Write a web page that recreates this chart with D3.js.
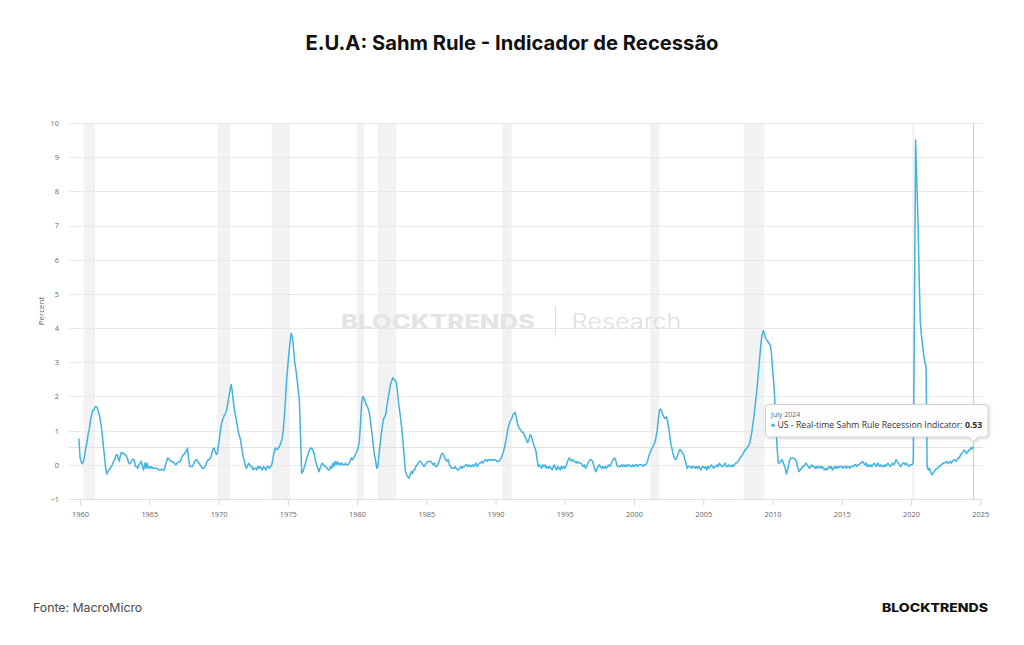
<!DOCTYPE html>
<html>
<head>
<meta charset="utf-8">
<script src="https://cdn.jsdelivr.net/npm/d3@7"></script>
<style>
  html, body { margin: 0; padding: 0; background: #ffffff; }
  svg { display: block; }
</style>
</head>
<body>
<svg id="chart" width="1024" height="645"></svg>
<script>
// ---------------- DATA ----------------
const chartTitle = "E.U.A: Sahm Rule - Indicador de Recessão";
const seriesName = "US - Real-time Sahm Rule Recession Indicator";
const yAxisTitle = "Percent";
const sourceText = "Fonte: MacroMicro";
const brandText = "BLOCKTRENDS";
const firstMonth = "1959-12";          // first monthly observation
const yTicks = [-1, 0, 1, 2, 3, 4, 5, 6, 7, 8, 9, 10];
const xTickYears = [1960, 1965, 1970, 1975, 1980, 1985, 1990, 1995, 2000, 2005, 2010, 2015, 2020, 2025];

// monthly values (percent), Dec 1959 .. Jul 2024
const sahmValues = [
  0.77,
  0.2, 0.1, 0.03, 0.1, 0.27, 0.5, 0.65, 0.9, 1.05, 1.3, 1.45, 1.6,            // 1960
  1.6, 1.7, 1.7, 1.65, 1.55, 1.4, 1.23, 0.95, 0.6, 0.3, -0.05, -0.27,        // 1961
  -0.2, -0.15, -0.1, -0.05, 0.0, 0.1, 0.15, 0.27, 0.3, 0.2, 0.1, 0.3,        // 1962
  0.37, 0.33, 0.33, 0.3, 0.27, 0.2, 0.07, 0.03, 0.07, 0.13, 0.17, 0.13,      // 1963
  -0.05, -0.05, -0.1, 0.0, 0.05, 0.1, -0.05, -0.15, 0.05, -0.1, 0.05, -0.1,  // 1964
  -0.05, -0.1, -0.05, -0.1, -0.1, -0.1, -0.1, -0.1, -0.15, -0.15, -0.15, -0.13, // 1965
  -0.15, -0.15, 0.0, 0.1, 0.2, 0.17, 0.13, 0.1, 0.1, 0.07, 0.03, 0.0,        // 1966
  0.05, 0.07, 0.1, 0.1, 0.2, 0.27, 0.3, 0.35, 0.4, 0.49, 0.2, -0.05,         // 1967
  -0.05, -0.05, 0.0, 0.07, 0.13, 0.15, 0.1, 0.05, 0.0, -0.05, -0.1, -0.1,    // 1968
  -0.05, 0.0, 0.1, 0.15, 0.15, 0.2, 0.3, 0.45, 0.49, 0.4, 0.3, 0.35,         // 1969
  0.6, 0.85, 1.1, 1.27, 1.35, 1.45, 1.5, 1.6, 1.8, 2.0, 2.2, 2.35,           // 1970
  2.1, 1.8, 1.55, 1.4, 1.2, 1.0, 0.85, 0.75, 0.5, 0.3, 0.15, 0.0,            // 1971
  -0.1, -0.05, 0.05, 0.0, -0.05, -0.05, -0.15, -0.1, -0.1, -0.15, -0.05, -0.1, // 1972
  -0.05, -0.1, -0.15, -0.05, -0.1, -0.15, -0.05, -0.05, -0.1, -0.05, 0.0, 0.15, // 1973
  0.35, 0.49, 0.45, 0.45, 0.5, 0.55, 0.65, 0.75, 1.0, 1.4, 1.9, 2.5,         // 1974
  2.9, 3.3, 3.6, 3.85, 3.75, 3.4, 3.0, 2.8, 2.5, 2.2, 1.9, 0.9,              // 1975
  -0.25, -0.2, -0.1, 0.0, 0.15, 0.25, 0.35, 0.45, 0.49, 0.47, 0.4, 0.3,      // 1976
  0.1, 0.0, -0.1, -0.2, -0.1, 0.0, 0.05, 0.0, -0.05, -0.05, -0.1, -0.15,     // 1977
  -0.15, -0.05, -0.1, 0.05, -0.05, 0.1, 0.0, 0.1, 0.0, 0.05, 0.0, 0.05,      // 1978
  0.0, 0.0, 0.05, 0.0, 0.0, 0.05, 0.1, 0.2, 0.15, 0.2, 0.25, 0.34,           // 1979
  0.4, 0.5, 0.7, 1.2, 1.8, 2.0, 1.95, 1.85, 1.75, 1.7, 1.6, 1.45,            // 1980
  1.15, 0.9, 0.6, 0.3, 0.15, -0.1, -0.05, 0.3, 0.6, 0.9, 1.15, 1.35,         // 1981
  1.4, 1.5, 1.75, 1.95, 2.15, 2.35, 2.45, 2.55, 2.5, 2.47, 2.4, 2.15,        // 1982
  1.8, 1.55, 1.3, 1.0, 0.6, 0.2, -0.2, -0.3, -0.35, -0.39, -0.3, -0.2,       // 1983
  -0.25, -0.15, -0.15, -0.05, 0.0, 0.05, 0.1, 0.1, 0.05, 0.0, -0.05, 0.0,    // 1984
  0.05, 0.1, 0.1, 0.1, 0.1, 0.05, 0.0, 0.05, -0.05, -0.05, 0.0, 0.1,         // 1985
  0.2, 0.3, 0.34, 0.3, 0.2, 0.15, 0.1, 0.15, 0.0, -0.05, -0.1, -0.1,         // 1986
  -0.1, -0.05, -0.1, -0.15, -0.15, -0.1, -0.05, -0.1, -0.05, -0.05, 0.0, 0.0, // 1987
  -0.05, 0.0, -0.05, -0.05, 0.0, -0.05, 0.0, 0.05, -0.05, 0.0, 0.05, 0.05,   // 1988
  0.1, 0.05, 0.1, 0.15, 0.15, 0.1, 0.15, 0.15, 0.13, 0.15, 0.13, 0.15,       // 1989
  0.15, 0.1, 0.1, 0.1, 0.15, 0.2, 0.3, 0.4, 0.55, 0.7, 0.9, 1.1,             // 1990
  1.2, 1.3, 1.35, 1.45, 1.5, 1.53, 1.4, 1.2, 1.1, 1.05, 1.0, 0.95,           // 1991
  0.95, 0.85, 0.8, 0.7, 0.65, 0.75, 0.88, 0.85, 0.7, 0.6, 0.5, 0.4,          // 1992
  0.15, -0.05, 0.0, -0.05, -0.1, 0.0, -0.05, 0.0, -0.1, -0.05, -0.1, -0.05,  // 1993
  -0.1, -0.15, -0.05, 0.0, -0.1, -0.15, -0.05, -0.1, -0.15, -0.05, -0.1, -0.05, // 1994
  -0.1, -0.05, 0.05, 0.15, 0.2, 0.15, 0.1, 0.15, 0.1, 0.1, 0.05, 0.1,        // 1995
  0.05, 0.05, 0.05, 0.0, -0.05, 0.0, -0.1, -0.05, 0.05, 0.1, 0.15, 0.15,     // 1996
  0.1, 0.0, -0.15, -0.2, -0.1, -0.05, 0.0, -0.05, -0.1, -0.05, -0.1, -0.05,  // 1997
  -0.1, -0.05, 0.0, -0.05, 0.0, 0.1, 0.15, 0.2, 0.15, 0.0, -0.05, -0.05,     // 1998
  -0.05, 0.0, -0.05, 0.0, -0.05, 0.0, -0.05, 0.0, 0.0, -0.05, -0.05, 0.0,    // 1999
  -0.05, 0.0, 0.0, -0.05, 0.0, 0.0, 0.0, 0.0, -0.05, 0.0, 0.0, 0.05,         // 2000
  0.15, 0.3, 0.35, 0.45, 0.5, 0.58, 0.65, 0.8, 1.0, 1.3, 1.6, 1.63,          // 2001
  1.55, 1.45, 1.4, 1.35, 1.4, 1.3, 1.1, 0.85, 0.6, 0.45, 0.3, 0.2,           // 2002
  0.15, 0.2, 0.3, 0.4, 0.45, 0.4, 0.35, 0.3, 0.15, 0.05, -0.1, -0.05,        // 2003
  -0.05, -0.05, -0.1, -0.05, -0.05, -0.1, -0.05, -0.1, -0.05, -0.1, -0.15, -0.05, // 2004
  -0.05, -0.1, -0.05, -0.15, -0.05, -0.1, -0.05, 0.0, -0.05, -0.1, -0.05, -0.05, // 2005
  0.0, -0.05, 0.05, 0.0, -0.05, -0.05, 0.0, 0.05, -0.05, -0.05, 0.0, -0.05,  // 2006
  -0.05, 0.0, -0.05, 0.0, 0.05, 0.05, 0.1, 0.15, 0.2, 0.25, 0.3, 0.35,       // 2007
  0.44, 0.45, 0.5, 0.55, 0.6, 0.75, 0.95, 1.2, 1.45, 1.75, 2.05, 2.4,        // 2008
  2.8, 3.2, 3.55, 3.8, 3.92, 3.85, 3.7, 3.65, 3.6, 3.55, 3.5, 3.3,           // 2009
  2.8, 2.4, 1.9, 1.2, 0.5, 0.05, 0.05, 0.1, 0.15, 0.1, 0.0, -0.1,            // 2010
  -0.27, -0.15, 0.0, 0.15, 0.2, 0.2, 0.2, 0.17, 0.15, 0.05, -0.1, -0.2,      // 2011
  -0.15, -0.1, -0.05, -0.05, 0.0, 0.05, 0.0, -0.05, -0.1, -0.05, 0.0, -0.05, // 2012
  -0.05, -0.1, -0.05, -0.1, -0.05, -0.05, -0.1, -0.05, -0.1, -0.15, -0.1, -0.15, // 2013
  -0.1, -0.05, -0.1, -0.05, -0.15, -0.1, -0.05, -0.1, -0.05, -0.1, -0.05, -0.05, // 2014
  -0.05, -0.1, -0.05, -0.05, -0.1, -0.05, -0.05, -0.1, -0.05, -0.05, -0.05, 0.0, // 2015
  0.0, -0.05, 0.0, 0.0, 0.05, 0.05, 0.1, 0.05, 0.0, 0.05, -0.05, 0.0,        // 2016
  -0.05, 0.0, -0.05, 0.0, 0.05, 0.0, -0.05, 0.05, 0.0, -0.05, 0.0, -0.05,    // 2017
  -0.05, 0.0, -0.05, 0.0, 0.05, 0.0, -0.05, 0.0, 0.05, 0.0, 0.05, 0.15,      // 2018
  0.1, 0.05, 0.0, -0.05, 0.0, 0.05, 0.05, 0.0, 0.05, 0.0, -0.05, 0.0,        // 2019
  0.0, 0.0, 0.1, 4.5, 9.5, 8.3, 7.2, 5.6, 4.2, 3.8, 3.5, 3.2,                // 2020
  3.0, 2.87, -0.05, -0.15, -0.1, -0.2, -0.29, -0.25, -0.2, -0.15, -0.12, -0.1, // 2021
  -0.05, -0.05, 0.0, 0.02, 0.05, 0.07, 0.05, 0.1, 0.05, 0.05, 0.1, 0.05,     // 2022
  0.1, 0.15, 0.15, 0.1, 0.15, 0.2, 0.2, 0.3, 0.33, 0.37, 0.43, 0.4,          // 2023
  0.33, 0.37, 0.43, 0.43, 0.5, 0.47, 0.53                                    // 2024
];

// NBER recessions (shaded bands)
const recessionStarts = ["1960-04", "1969-12", "1973-11", "1980-01", "1981-07", "1990-07", "2001-03", "2007-12", "2020-02"];
const recessionEnds   = ["1961-02", "1970-11", "1975-03", "1980-07", "1982-11", "1991-03", "2001-11", "2009-06", "2020-04"];

// ---------------- CHART ----------------
const svg = d3.select("#chart");
const W = 1024, H = 645;
const plot = { left: 69, right: 982, top: 123, bottom: 499 };
const lineColor = "#41b3e1";
const parseMonth = d3.timeParse("%Y-%m");

const start = parseMonth(firstMonth);
const data = sahmValues.map((v, i) => ({ date: d3.timeMonth.offset(start, i), value: v }));

const x = d3.scaleTime()
  .domain([new Date(1959, 2, 15), new Date(2025, 1, 15)])
  .range([plot.left, plot.right]);
const y = d3.scaleLinear().domain([-1, 10]).range([plot.bottom, plot.top]);

svg.append("rect").attr("width", W).attr("height", H).attr("fill", "#ffffff");

// title
svg.append("text")
  .attr("x", 512).attr("y", 49.5)
  .attr("text-anchor", "middle")
  .attr("font-family", "Inter, 'Noto Sans', sans-serif")
  .attr("font-weight", 700)
  .attr("font-size", 20.2)
  .attr("fill", "#111111")
  .text(chartTitle);

// recession bands
const bands = recessionStarts.map((s, i) => ({ s: parseMonth(s), e: parseMonth(recessionEnds[i]) }));
svg.append("g").selectAll("rect").data(bands).join("rect")
  .attr("x", d => x(d.s))
  .attr("width", d => x(d.e) - x(d.s))
  .attr("y", plot.top)
  .attr("height", plot.bottom - plot.top)
  .attr("fill", "#f2f2f2");

// horizontal gridlines
svg.append("g").selectAll("line").data(yTicks.filter(t => t !== -1)).join("line")
  .attr("x1", plot.left).attr("x2", plot.right)
  .attr("y1", d => Math.round(y(d)) + 0.5).attr("y2", d => Math.round(y(d)) + 0.5)
  .attr("stroke", "#e9e9e9").attr("stroke-width", 1);

// y axis labels
const yAxis = d3.axisLeft(y).tickValues(yTicks).tickSize(0).tickPadding(0).tickFormat(d3.format("d"));
const gy = svg.append("g").attr("transform", "translate(59,0)").call(yAxis);
gy.select(".domain").remove();
gy.selectAll("text")
  .attr("font-family", "'Open Sans', 'Noto Sans', sans-serif")
  .attr("font-size", 7.4)
  .attr("fill", "#666666");

// y axis title
svg.append("text")
  .attr("transform", "translate(43.5,311) rotate(-90)")
  .attr("text-anchor", "middle")
  .attr("font-family", "'Open Sans', 'Noto Sans', sans-serif")
  .attr("font-size", 8)
  .attr("fill", "#666666")
  .text(yAxisTitle);

// x axis
const xAxis = d3.axisBottom(x)
  .tickValues(xTickYears.map(yr => new Date(yr, 0, 1)))
  .tickSize(6).tickPadding(6)
  .tickFormat(d3.timeFormat("%Y"));
const gx = svg.append("g").attr("transform", `translate(0,${plot.bottom + 0.5})`).call(xAxis);
gx.select(".domain")
  .attr("d", `M${plot.left},0H${plot.right}`)
  .attr("stroke", "#e0e0e0");
gx.selectAll(".tick line").attr("stroke", "#d8d8d8");
gx.selectAll("text")
  .attr("font-family", "'Open Sans', 'Noto Sans', sans-serif")
  .attr("font-size", 7.4)
  .attr("fill", "#666666");

// watermark
const wm = svg.append("g");
wm.append("text")
  .attr("x", 341).attr("y", 328.5)
  .attr("font-family", "Inter, 'Noto Sans', sans-serif")
  .attr("font-weight", 800).attr("font-size", 20)
  .attr("textLength", 194).attr("lengthAdjust", "spacingAndGlyphs")
  .attr("fill", "#e4e4e4")
  .text(brandText);
wm.append("line")
  .attr("x1", 555.5).attr("x2", 555.5).attr("y1", 306).attr("y2", 337)
  .attr("stroke", "#dddddd").attr("stroke-width", 1);
wm.append("text")
  .attr("x", 571.5).attr("y", 328.5)
  .attr("font-family", "Inter, 'Noto Sans', sans-serif")
  .attr("font-weight", 300).attr("font-size", 21)
  .attr("textLength", 110).attr("lengthAdjust", "spacingAndGlyphs")
  .attr("fill", "#e0e0e0")
  .text("Research");

// hovered point (last observation)
const hover = data[data.length - 1];
const hx = x(hover.date), hy = y(hover.value);

// crosshairs
svg.append("line")
  .attr("x1", Math.round(hx) + 0.5).attr("x2", Math.round(hx) + 0.5)
  .attr("y1", plot.top).attr("y2", plot.bottom)
  .attr("stroke", "#cccccc").attr("stroke-width", 1);
svg.append("line")
  .attr("x1", plot.left).attr("x2", plot.right)
  .attr("y1", Math.round(hy) + 0.5).attr("y2", Math.round(hy) + 0.5)
  .attr("stroke", "#e2e2e2").attr("stroke-width", 1);

// series line
const line = d3.line().x(d => x(d.date)).y(d => y(d.value));
svg.append("path")
  .datum(data)
  .attr("d", line)
  .attr("fill", "none")
  .attr("stroke", lineColor)
  .attr("stroke-width", 1.5)
  .attr("stroke-linejoin", "round");

// tooltip
const defs = svg.append("defs");
const f = defs.append("filter").attr("id", "shadow").attr("x", "-10%").attr("y", "-30%").attr("width", "120%").attr("height", "170%");
f.append("feDropShadow").attr("dx", 1).attr("dy", 1).attr("stdDeviation", 1.5).attr("flood-color", "#000").attr("flood-opacity", 0.18);

const tb = { x: 765.5, y: 404.5, w: 222.5, h: 32.5, r: 3 };
const tipX = hx, tipY = hy - 5;
const tipPath = [
  `M${tb.x + tb.r},${tb.y}`,
  `H${tb.x + tb.w - tb.r}`,
  `Q${tb.x + tb.w},${tb.y} ${tb.x + tb.w},${tb.y + tb.r}`,
  `V${tb.y + tb.h - tb.r}`,
  `Q${tb.x + tb.w},${tb.y + tb.h} ${tb.x + tb.w - tb.r},${tb.y + tb.h}`,
  `H${tipX + 5}`,
  `L${tipX},${tipY}`,
  `L${tipX - 5},${tb.y + tb.h}`,
  `H${tb.x + tb.r}`,
  `Q${tb.x},${tb.y + tb.h} ${tb.x},${tb.y + tb.h - tb.r}`,
  `V${tb.y + tb.r}`,
  `Q${tb.x},${tb.y} ${tb.x + tb.r},${tb.y}`,
  "Z"
].join("");
const tip = svg.append("g");
tip.append("path").attr("d", tipPath)
  .attr("fill", "rgba(255,255,255,0.96)")
  .attr("stroke", "#cfcfcf").attr("stroke-width", 1)
  .attr("filter", "url(#shadow)");
tip.append("text")
  .attr("x", 771).attr("y", 416.5)
  .attr("font-family", "'Open Sans', 'Noto Sans', sans-serif")
  .attr("font-size", 7).attr("fill", "#666666")
  .text(d3.timeFormat("%B %Y")(hover.date));
tip.append("circle").attr("cx", 773).attr("cy", 425.3).attr("r", 1.8).attr("fill", lineColor);
const t2 = tip.append("text")
  .attr("x", 777.5).attr("y", 428.4)
  .attr("font-family", "'Open Sans', 'Noto Sans', sans-serif")
  .attr("font-size", 8.7).attr("fill", "#333333");
t2.append("tspan").text(seriesName + ": ");
t2.append("tspan").attr("font-weight", 700).text(d3.format(".2f")(hover.value));

// footer
svg.append("text")
  .attr("x", 33).attr("y", 611.5)
  .attr("font-family", "Inter, 'Noto Sans', sans-serif")
  .attr("font-size", 12.3).attr("fill", "#4a4a4a")
  .text(sourceText);
svg.append("text")
  .attr("x", 988).attr("y", 611.5)
  .attr("text-anchor", "end")
  .attr("font-family", "Inter, 'Noto Sans', sans-serif")
  .attr("font-weight", 800).attr("font-size", 11.5)
  .attr("textLength", 106).attr("lengthAdjust", "spacingAndGlyphs")
  .attr("fill", "#111111")
  .text(brandText);
</script>
</body>
</html>
